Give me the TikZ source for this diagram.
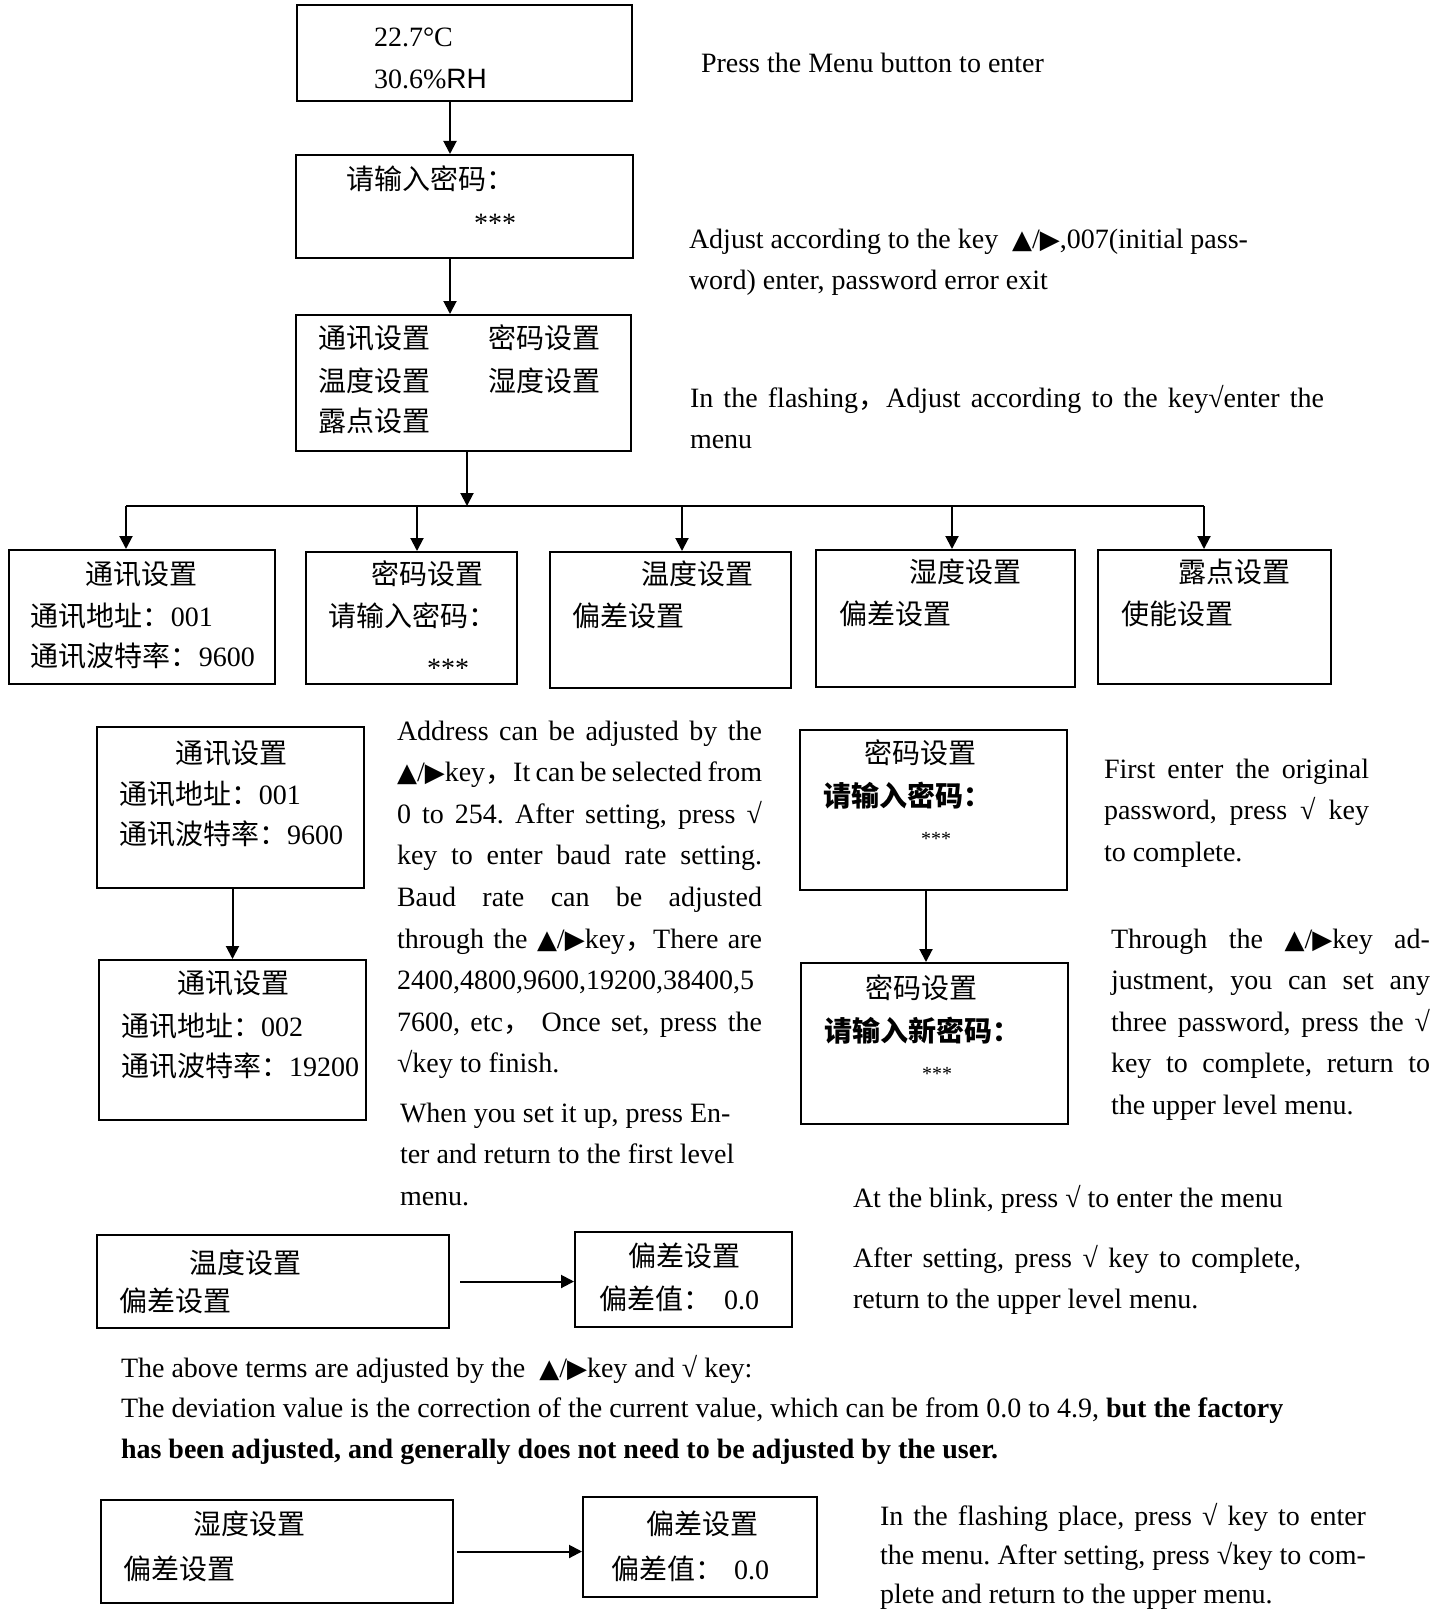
\documentclass[tikz,border=0pt]{standalone}
\usepackage{fontspec}
\setmainfont{Liberation Serif}
\newfontfamily\cjk{Noto Sans CJK SC}
\newfontfamily\tsym{DejaVu Sans}
\newfontfamily\rhsans{Liberation Sans}
\usetikzlibrary{arrows.meta,fit}
\frenchspacing
\newcommand{\tkeys}{{\tsym\fontsize{13pt}{13pt}\selectfont ▲}/{\tsym\fontsize{13pt}{13pt}\selectfont ▶}}
\newcommand{\jl}[1]{{\spaceskip=0pt\xspaceskip=0pt\makebox[\hsize][s]{#1}}}
\tikzstyle{scr} = [rectangle, draw=black, line width=1pt, inner sep=0pt]
\tikzstyle{txt} = [anchor=base west, inner sep=0pt, font=\fontsize{14pt}{20.8pt}\selectfont]
\tikzstyle{para} = [txt, align=justify]

\begin{document}
\begin{tikzpicture}[x=0.5pt,y=-0.5pt,>={Triangle[width=6.5pt,length=6.5pt]},line width=1pt]
  \useasboundingbox (0,0) rectangle (1446,1611);

  % screens
  \node (Display) [scr, fit={(297,5) (632,101)}] {};
  \node (Password) [scr, fit={(296,155) (633,258)}] {};
  \node (Menu) [scr, fit={(296,315) (631,451)}] {};
  \node (Comm) [scr, fit={(9,550) (275,684)}] {};
  \node (PwdSet) [scr, fit={(306,552) (517,684)}] {};
  \node (TempSet) [scr, fit={(550,552) (791,688)}] {};
  \node (HumSet) [scr, fit={(816,550) (1075,687)}] {};
  \node (DewSet) [scr, fit={(1098,550) (1331,684)}] {};
  \node (CommA) [scr, fit={(97,727) (364,888)}] {};
  \node (CommB) [scr, fit={(99,960) (366,1120)}] {};
  \node (PwdOld) [scr, fit={(800,730) (1067,890)}] {};
  \node (PwdNew) [scr, fit={(801,963) (1068,1124)}] {};
  \node (TempA) [scr, fit={(97,1235) (449,1328)}] {};
  \node (TempB) [scr, fit={(575,1232) (792,1327)}] {};
  \node (HumA) [scr, fit={(101,1500) (453,1603)}] {};
  \node (HumB) [scr, fit={(583,1497) (817,1597)}] {};

  % screen texts
  \node (dispT) [txt] at (373,47) {22.7°C};
  \node (dispH) [txt] at (373,89) {30.6\%{\rhsans RH}};
  \node (pwdL) [txt] at (345,189) {\cjk 请输入密码：};
  \node (pwdS) [txt] at (473,232) {***};
  \node (menu1) [txt] at (317,348) {\cjk 通讯设置};
  \node (menu2) [txt] at (487,348) {\cjk 密码设置};
  \node (menu3) [txt] at (317,391) {\cjk 温度设置};
  \node (menu4) [txt] at (487,391) {\cjk 湿度设置};
  \node (menu5) [txt] at (317,431) {\cjk 露点设置};

  \node (comT) [txt] at (84,584) {\cjk 通讯设置};
  \node (comAd) [txt] at (30,626) {{\cjk 通讯地址：}001};
  \node (comBd) [txt] at (30,666) {{\cjk 通讯波特率：}9600};
  \node (psT) [txt] at (370,584) {\cjk 密码设置};
  \node (psL) [txt] at (327,626) {\cjk 请输入密码：};
  \node (psS) [txt] at (426,677) {***};
  \node (tsT) [txt] at (640,584) {\cjk 温度设置};
  \node (tsD) [txt] at (571,626) {\cjk 偏差设置};
  \node (hsT) [txt] at (908,582) {\cjk 湿度设置};
  \node (hsD) [txt] at (838,624) {\cjk 偏差设置};
  \node (dsT) [txt] at (1177,582) {\cjk 露点设置};
  \node (dsE) [txt] at (1120,624) {\cjk 使能设置};

  \node (caT) [txt] at (174,763) {\cjk 通讯设置};
  \node (caAd) [txt] at (118,804) {{\cjk 通讯地址：}001};
  \node (caBd) [txt] at (118,844) {{\cjk 通讯波特率：}9600};
  \node (cbT) [txt] at (176,993) {\cjk 通讯设置};
  \node (cbAd) [txt] at (120,1036) {{\cjk 通讯地址：}002};
  \node (cbBd) [txt] at (120,1076) {{\cjk 通讯波特率：}19200};

  \node (poT) [txt] at (863,763) {\cjk 密码设置};
  \node (poL) [txt] at (822,806) {\cjk\bfseries 请输入密码：};
  \node (poS) [txt, font=\fontsize{10pt}{12pt}\selectfont] at (920,845) {***};
  \node (pnT) [txt] at (864,998) {\cjk 密码设置};
  \node (pnL) [txt] at (823,1041) {\cjk\bfseries 请输入新密码：};
  \node (pnS) [txt, font=\fontsize{10pt}{12pt}\selectfont] at (921,1080) {***};

  \node (taT) [txt] at (188,1273) {\cjk 温度设置};
  \node (taD) [txt] at (118,1311) {\cjk 偏差设置};
  \node (tbT) [txt] at (627,1266) {\cjk 偏差设置};
  \node (tbV) [txt] at (598,1309) {\cjk 偏差值：};
  \node (tbN) [txt] at (723,1309) {0.0};
  \node (haT) [txt] at (192,1534) {\cjk 湿度设置};
  \node (haD) [txt] at (122,1579) {\cjk 偏差设置};
  \node (hbT) [txt] at (645,1534) {\cjk 偏差设置};
  \node (hbV) [txt] at (610,1579) {\cjk 偏差值：};
  \node (hbN) [txt] at (733,1579) {0.0};

  % notes
  \node (notePress) [txt] at (700,73) {Press the Menu button to enter};
  \node (noteAdjust) [para, text width=279.5pt] at (688,248)
    {\jl{Adjust according to the key \ \tkeys,007(initial pass-}\\word) enter, password error exit};
  \node (noteFlash) [para, text width=317pt] at (689,407)
    {\jl{In the flashing{\cjk ，}Adjust according to the key√enter the}\\menu};
  \node (noteAddr) [para, text width=182.5pt] at (396,740)
    {\jl{Address can be adjusted by the}\\
     \jl{\tkeys key{\cjk ，}It can be selected from}\\
     \jl{0 to 254. After setting, press √}\\
     \jl{key to enter baud rate setting.}\\
     \jl{Baud rate can be adjusted}\\
     \jl{through the \tkeys key{\cjk ，}There are}\\
     2400,4800,9600,19200,38400,5\\
     \jl{7600, etc{\cjk ，} Once set, press the}\\
     √key to finish.};
  \node (noteEnter) [para, text width=200pt] at (399,1122)
    {When you set it up, press En-\\ter and return to the first level\\menu.};
  \node (noteFirst) [para, text width=132.5pt] at (1103,778)
    {\jl{First enter the original}\\\jl{password, press √ key}\\to complete.};
  \node (noteThrough) [para, text width=159.5pt] at (1110,948)
    {\jl{Through the \tkeys key ad-}\\
     \jl{justment, you can set any}\\
     \jl{three password, press the √}\\
     \jl{key to complete, return to}\\
     the upper level menu.};
  \node (noteBlink) [txt] at (852,1207) {At the blink, press √ to enter the menu};
  \node (noteAfter) [para, text width=224pt] at (852,1267)
    {\jl{After setting, press √ key to complete,}\\return to the upper level menu.};
  \node (noteTerms) [para, text width=640pt, font=\fontsize{14pt}{20.3pt}\selectfont] at (120,1377)
    {The above terms are adjusted by the \ \tkeys key and √ key:\\
     The deviation value is the correction of the current value, which can be from 0.0 to 4.9, \textbf{but the factory}\\
     \textbf{has been adjusted, and generally does not need to be adjusted by the user.}};
  \node (notePlace) [para, text width=243pt, font=\fontsize{14pt}{19.6pt}\selectfont] at (879,1525)
    {\jl{In the flashing place, press √ key to enter}\\
     \jl{the menu. After setting, press √key to com-}\\
     plete and return to the upper menu.};

  % connectors
  \coordinate (s1) at (450,0);
  \draw[->] (s1 |- Display.south) -- (s1 |- Password.north);
  \draw[->] (s1 |- Password.south) -- (s1 |- Menu.north);
  \coordinate (bus) at (467,506);
  \coordinate (busL) at (126,506);
  \coordinate (busR) at (1204,506);
  \draw[->] (bus |- Menu.south) -- (bus);
  \draw (busL) -- (busR);
  \foreach \nm/\xx in {Comm/126,PwdSet/417,TempSet/682,HumSet/952,DewSet/1204}{
    \coordinate (d\nm) at (\xx,506);
    \draw[->] (d\nm) -- (d\nm |- \nm.north);
  }
  \draw[->] (CommA.south -| CommB.north) -- (CommB.north);
  \coordinate (s2) at (926,0);
  \draw[->] (s2 |- PwdOld.south) -- (s2 |- PwdNew.north);
  \draw[->] ([xshift=5pt]TempA.east) -- (TempA.east -| TempB.west);
  \draw[->] ([xshift=1.5pt]HumA.east) -- (HumA.east -| HumB.west);
\end{tikzpicture}
\end{document}
